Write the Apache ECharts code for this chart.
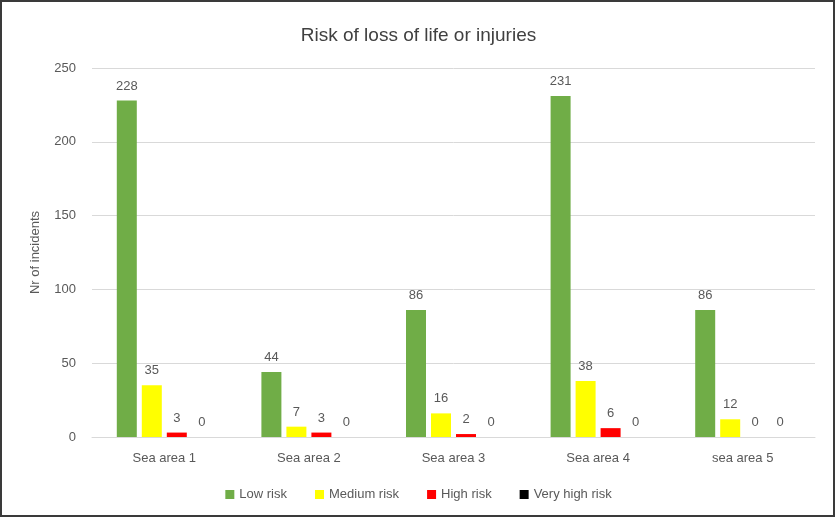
<!DOCTYPE html>
<html>
<head>
<meta charset="utf-8">
<script src="https://cdn.jsdelivr.net/npm/echarts@6/dist/echarts.min.js"></script>
<style>
html,body{margin:0;padding:0;background:#fff;}
#frame{position:absolute;left:0;top:0;border:2px solid #3a3a3a;box-sizing:content-box;}
#chart{width:837px;height:519px;position:absolute;left:0;top:0;}
</style>
</head>
<body>
<div id="chart"></div>
<div id="frame" style="width:831px;height:513px;pointer-events:none;"></div>
<script>
var categories = ['Sea area 1', 'Sea area 2', 'Sea area 3', 'Sea area 4', 'sea area 5'];
var lowRisk = [228, 44, 86, 231, 86];
var mediumRisk = [35, 7, 16, 38, 12];
var highRisk = [3, 3, 2, 6, 0];
var veryHighRisk = [0, 0, 0, 0, 0];
var seriesNames = ['Low risk', 'Medium risk', 'High risk', 'Very high risk'];
var colors = ['#70AD47', '#FFFF00', '#FF0000', '#000000'];

var font = 'Liberation Sans';
var chart = echarts.init(document.getElementById('chart'));
function mk(name, data, color) {
  return {
    name: name, type: 'bar', data: data,
    barWidth: 20, barGap: '25%',
    itemStyle: { color: color },
    label: { show: true, position: 'top', distance: 8, color: '#595959', fontFamily: font, fontSize: 13 }
  };
}
chart.setOption({
  animation: false,
  color: colors,
  title: { text: 'Risk of loss of life or injuries', left: 'center', top: 21,
    textStyle: { fontFamily: font, fontSize: 19, fontWeight: 'normal', color: '#404040' } },
  legend: { bottom: 13, left: 'center', itemWidth: 9, itemHeight: 9, itemGap: 28,
    icon: 'rect', textStyle: { fontFamily: font, fontSize: 13, color: '#595959' },
    data: seriesNames },
  grid: { left: 92, right: 22, top: 68, bottom: 82 },
  xAxis: { type: 'category', data: categories,
    axisLine: { lineStyle: { color: '#D9D9D9' } }, axisTick: { show: false },
    axisLabel: { color: '#595959', fontFamily: font, fontSize: 13, margin: 15 } },
  yAxis: { type: 'value', min: 0, max: 250, interval: 50,
    name: 'Nr of incidents', nameLocation: 'middle', nameGap: 50, nameRotate: 90,
    nameTextStyle: { color: '#595959', fontFamily: font, fontSize: 13 },
    axisLabel: { color: '#595959', fontFamily: font, fontSize: 13, margin: 16 },
    splitLine: { lineStyle: { color: '#D9D9D9' } },
    axisLine: { show: false }, axisTick: { show: false } },
  series: [
    mk(seriesNames[0], lowRisk, colors[0]),
    mk(seriesNames[1], mediumRisk, colors[1]),
    mk(seriesNames[2], highRisk, colors[2]),
    mk(seriesNames[3], veryHighRisk, colors[3])
  ]
});
</script>
</body>
</html>
